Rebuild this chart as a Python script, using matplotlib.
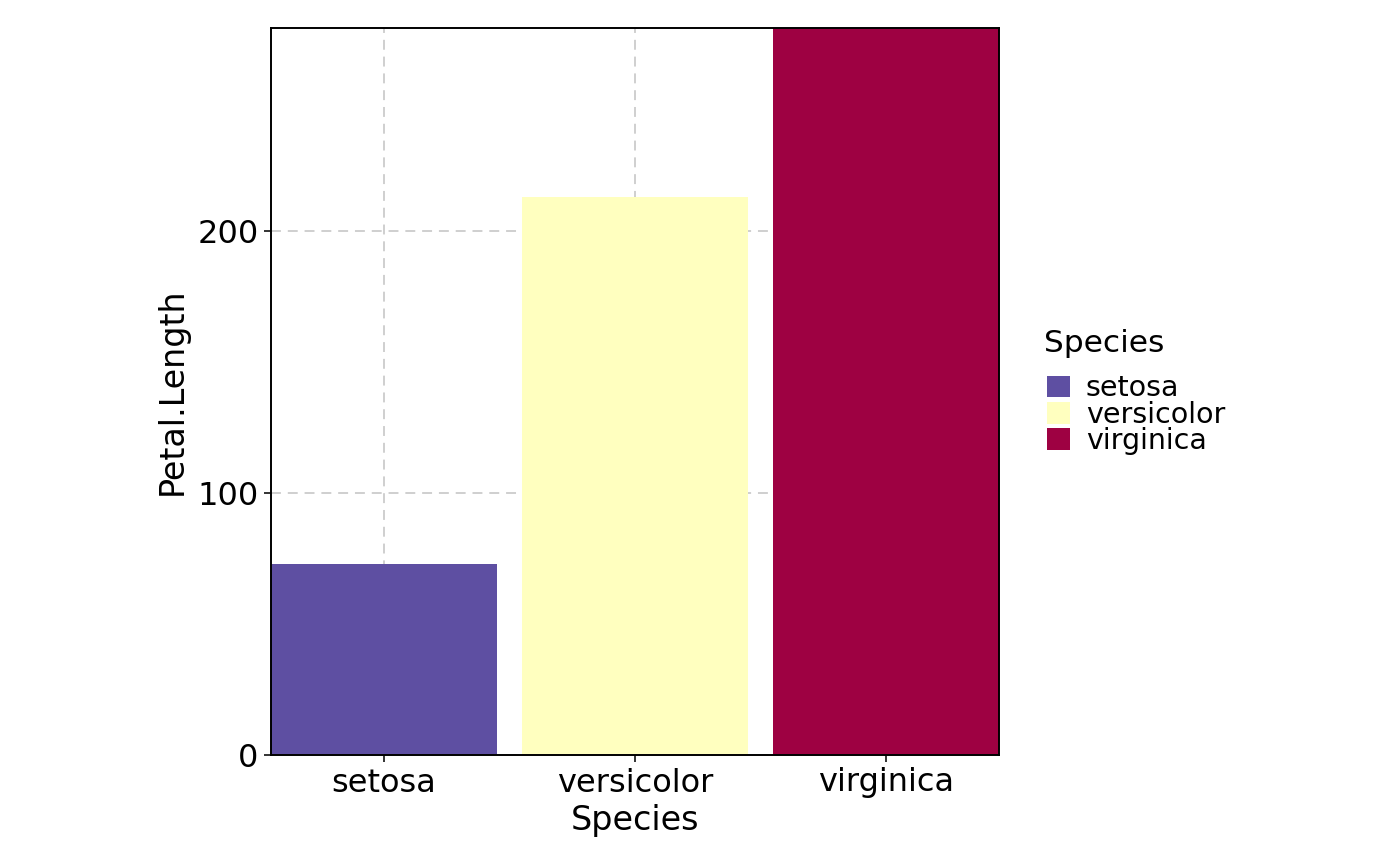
import matplotlib
matplotlib.use("Agg")
import matplotlib.pyplot as plt
from matplotlib.patches import Patch

species = ["setosa", "versicolor", "virginica"]
petal_length_sum = [73.1, 213.0, 277.6]
colors = ["#5E4FA2", "#FFFFBF", "#9E0142"]
y_ticks = [0, 100, 200]

plt.rcParams['font.family'] = ['DejaVu Sans']

fig = plt.figure(figsize=(14, 8.65), dpi=100)
ax = fig.add_axes([271/1400, 1-755/865, (999-271)/1400, (755-28)/865])

x = list(range(1, len(species) + 1))
ax.bar(x, petal_length_sum, width=0.9, color=colors, zorder=2)

ax.set_xlim(0.55, len(species) + 0.45)
ax.set_ylim(0, max(petal_length_sum))
ax.set_xticks(x)
ax.set_xticklabels(species)
ax.set_yticks(y_ticks)

ax.grid(True, color="#cccccc", linewidth=1.3, linestyle=(0, (5.5, 3.8)), zorder=0)
ax.set_axisbelow(True)

for s in ax.spines.values():
    s.set_linewidth(1.4)
    s.set_color("black")
    s.set_zorder(3)

ax.tick_params(axis="both", length=5, width=1.4, color="#333333",
               labelsize=23, labelcolor="black", pad=4)

ax.set_xlabel("Species", fontsize=24, labelpad=4)
ax.set_ylabel("Petal.Length", fontsize=24, labelpad=6)

handles = [Patch(facecolor=c, edgecolor="none", label=s) for s, c in zip(species, colors)]
leg = fig.legend(handles=handles, loc="upper left",
                 bbox_to_anchor=(1036/1400, 1-363/865), frameon=False,
                 fontsize=20.5, handlelength=0.8, handleheight=0.8,
                 handletextpad=0.55, labelspacing=-0.06, borderaxespad=0)
fig.text(1044/1400, 1-343/865, "Species", fontsize=22.5, ha="left", va="center")

fig.savefig("out.png", dpi=100)
